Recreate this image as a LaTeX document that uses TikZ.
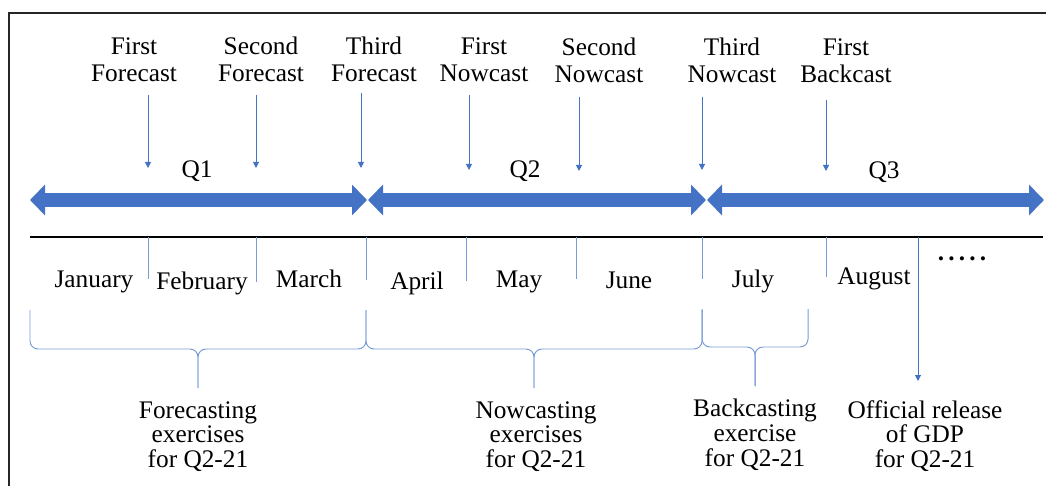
\documentclass[tikz,border=0pt]{standalone}
\usepackage{fontspec}
\setmainfont{Liberation Serif}
\usetikzlibrary{arrows.meta}
\definecolor{gdpblue}{HTML}{4472C4}
\definecolor{lineblue}{HTML}{7A9CD6}
\tikzset{
  quarter/.style={gdpblue, line width=0.325cm, {Triangle[length=0.375cm,width=0.75cm]}-{Triangle[length=0.375cm,width=0.75cm]}},
  cast/.style={gdpblue, line width=0.7pt, -{Triangle[length=0.15cm,width=0.15cm]}},
  monthsep/.style={lineblue, line width=0.7pt},
  brace/.style={lineblue, line width=0.7pt, rounded corners=0.2cm},
  toplbl/.style={font=\fontsize{18}{19.1}\selectfont, align=center, inner sep=0pt, anchor=south},
  botlbl/.style={font=\fontsize{18}{17.7}\selectfont, align=center, inner sep=0pt, anchor=north},
  monthlbl/.style={font=\fontsize{18}{20}\selectfont, inner sep=0pt, anchor=base}
}
\begin{document}
\begin{tikzpicture}[x=0.025cm,y=-0.025cm]
\useasboundingbox (0,0) rectangle (1046,486);
% frame
\draw[line width=1.4pt, black!85] (9,500) |- (1060,13);
% quarters
\coordinate (q1l) at (30,200);
\coordinate (q1r) at (367,200);
\coordinate (q2l) at (368,200);
\coordinate (q2r) at (706,200);
\coordinate (q3l) at (707,200);
\coordinate (q3r) at (1044,200);
\draw[quarter] (q1l)--(q1r);
\draw[quarter] (q2l)--(q2r);
\draw[quarter] (q3l)--(q3r);
\node[monthlbl] (q1) at (197,177) {Q1};
\node[monthlbl] (q2) at (525,177) {Q2};
\node[monthlbl] (q3) at (884,178) {Q3};
% forecasts, nowcasts, backcast
\node[toplbl] (ff) at (134,82) {First\\Forecast};
\node[toplbl] (sf) at (261,82) {Second\\Forecast};
\node[toplbl] (tf) at (374,82) {Third\\Forecast};
\node[toplbl] (fn) at (484,82) {First\\Nowcast};
\node[toplbl] (sn) at (599,83) {Second\\Nowcast};
\node[toplbl] (tn) at (732,83) {Third\\Nowcast};
\node[toplbl] (fb) at (846,83) {First\\Backcast};
\coordinate (ffa) at (148,95);  \coordinate (ffb) at (148,168);
\coordinate (sfa) at (256,95);  \coordinate (sfb) at (256,168);
\coordinate (tfa) at (361,93);  \coordinate (tfb) at (361,168);
\coordinate (fna) at (469,95);  \coordinate (fnb) at (469,170);
\coordinate (sna) at (579,97);  \coordinate (snb) at (579,171);
\coordinate (tna) at (702,97);  \coordinate (tnb) at (702,170);
\coordinate (fba) at (826,100); \coordinate (fbb) at (826,171);
\draw[cast] (ffa)--(ffb);
\draw[cast] (sfa)--(sfb);
\draw[cast] (tfa)--(tfb);
\draw[cast] (fna)--(fnb);
\draw[cast] (sna)--(snb);
\draw[cast] (tna)--(tnb);
\draw[cast] (fba)--(fbb);
% time line and months
\coordinate (tl) at (30,237);
\coordinate (tr) at (1043,237);
\draw[line width=2pt] (tl)--(tr);
\draw[monthsep] (148,237)--(148,279);
\draw[monthsep] (256,237)--(256,282);
\draw[monthsep] (366,237)--(366,280);
\draw[monthsep] (466,237)--(466,281);
\draw[monthsep] (576,237)--(576,279);
\draw[monthsep] (702,237)--(702,279);
\draw[monthsep] (826,237)--(826,277);
\node[monthlbl] (jan) at (94,287) {January};
\node[monthlbl] (feb) at (202,289) {February};
\node[monthlbl] (mar) at (309,287) {March};
\node[monthlbl] (apr) at (417,289) {April};
\node[monthlbl] (may) at (519,287) {May};
\node[monthlbl] (jun) at (629,288) {June};
\node[monthlbl] (jul) at (753,287) {July};
\node[monthlbl] (aug) at (874,284) {August};
\node[monthlbl] (more) at (962,260) {\textbf{.\,.\,.\,.\,.}};
% braces
\draw[brace] (30,310) |- (198,349) -- (198,388);
\draw[brace] (366,310) |- (198,349) -- (198,388);
\draw[brace] (366,310) |- (534,349) -- (534,388);
\draw[brace] (702,310) |- (534,349) -- (534,388);
\draw[brace] (702,309) |- (755,347) -- (755,386);
\draw[brace] (808,309) |- (755,347) -- (755,386);
\node[botlbl] (fex) at (198,401) {Forecasting\\exercises\\for Q2-21};
\node[botlbl] (nex) at (536,401) {Nowcasting\\exercises\\for Q2-21};
\node[botlbl] (bex) at (755,399) {Backcasting\\exercise\\for Q2-21};
\node[botlbl] (gdp) at (925,400) {Official release\\of GDP\\for Q2-21};
\coordinate (gdpa) at (918,237);
\coordinate (gdpb) at (918,381);
\draw[cast] (gdpa)--(gdpb);
\end{tikzpicture}
\end{document}
